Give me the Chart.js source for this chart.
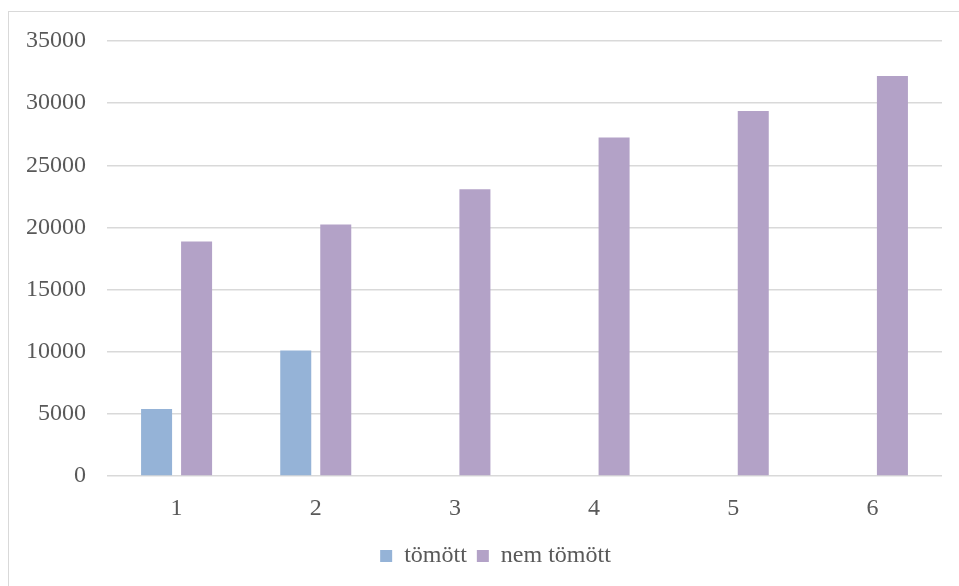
<!DOCTYPE html>
<html>
<head>
<meta charset="utf-8">
<script src="https://cdn.jsdelivr.net/npm/chart.js@4.4.0/dist/chart.umd.min.js"></script>
<style>
  html, body { margin: 0; padding: 0; background: #fff; overflow: hidden; }
  #frame {
    position: absolute; left: 8px; top: 11px;
    width: 975px; height: 600px;
    border: 1px solid #d9d9d9; box-sizing: border-box;
  }
  #chart { position: absolute; left: 0; top: 0; }
</style>
</head>
<body>
<div id="frame">
  <canvas id="chart" width="973" height="574"></canvas>
</div>
<script>
// categories and the two series
const labels = ["1", "2", "3", "4", "5", "6"];
const tomott = [5390, 10100, null, null, null, null];
const nemTomott = [18870, 20230, 23070, 27230, 29370, 32180];
const yTicks = [0, 5000, 10000, 15000, 20000, 25000, 30000, 35000];

const textColor = "#595959";
const gridColor = "#d9d9d9";
const font = { family: "'Liberation Serif', 'Times New Roman', serif", size: 24 };

Chart.defaults.font.family = font.family;
Chart.defaults.color = textColor;

// legend sits centred on the full frame, which is wider than the plot
const legendShift = {
  id: "legendShift",
  afterLayout(chart) {
    chart.legend.left += 20;
    chart.legend.right += 20;
  }
};

new Chart(document.getElementById("chart"), {
  type: "bar",
  data: {
    labels: labels,
    datasets: [
      {
        label: "tömött",
        data: tomott,
        backgroundColor: "#95b3d7",
        categoryPercentage: 0.575,
        barPercentage: 0.775
      },
      {
        label: "nem tömött",
        data: nemTomott,
        backgroundColor: "#b3a2c7",
        categoryPercentage: 0.575,
        barPercentage: 0.775
      }
    ]
  },
  plugins: [legendShift],
  options: {
    responsive: false,
    animation: false,
    layout: { padding: { left: 0, right: 40, top: 29, bottom: 8 } },
    plugins: {
      tooltip: { enabled: false },
      legend: {
        position: "bottom",
        labels: {
          color: textColor,
          font: font,
          boxWidth: 12,
          boxHeight: 12,
          padding: 10
        }
      }
    },
    scales: {
      x: {
        grid: { display: false, drawTicks: false },
        border: { display: false },
        ticks: { color: textColor, font: font, padding: 18 },
        afterFit: (scale) => { scale.height = 58; }
      },
      y: {
        min: 0,
        max: 35000,
        afterBuildTicks: (scale) => { scale.ticks = yTicks.map(v => ({ value: v })); },
        grid: { color: gridColor, lineWidth: 1.5, drawTicks: false },
        border: { display: false },
        // plain numbers, no thousands separator
        ticks: { color: textColor, font: font, padding: 21, callback: (v) => String(v) },
        afterFit: (scale) => { scale.width = 98; scale.paddingTop = 0; }
      }
    }
  }
});
</script>
</body>
</html>
